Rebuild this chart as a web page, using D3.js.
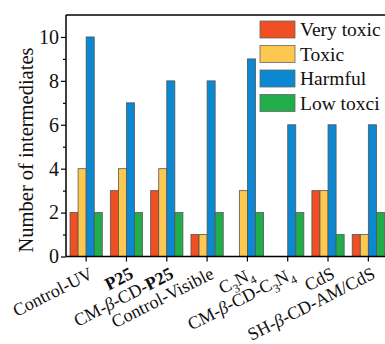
<!DOCTYPE html>
<html><head><meta charset="utf-8">
<script src="https://cdn.jsdelivr.net/npm/d3@7"></script>
<style>body{margin:0;background:#fff}</style>
</head><body>
<svg id="c" width="385" height="344"></svg>
<script>
const categories = ["Control-UV","P25","CM-β-CD-P25","Control-Visible","C3N4","CM-β-CD-C3N4","CdS","SH-β-CD-AM/CdS"];
const seriesNames = ["Very toxic","Toxic","Harmful","Low toxci"];
const veryToxic = [2,3,3,1,0,0,3,1];
const toxic     = [4,4,4,1,3,0,3,1];
const harmful   = [10,7,8,8,9,6,6,6];
const lowToxic  = [2,2,2,2,2,2,1,2];
const colors = ["#f04e23","#fdc84f","#0b88d1","#22ad4b"];
const yTicks = [0,2,4,6,8,10];
const yMinor = [1,3,5,7,9];
// rich label parts: [text, style] style: n normal, b bold, i italic, s subscript
const labelParts = [
  [["Control-UV","n"]],
  [["P25","b"]],
  [["CM-","n"],["β","i"],["-CD-","n"],["P25","b"]],
  [["Control-Visible","n"]],
  [["C","n"],["3","s"],["N","n"],["4","s"]],
  [["CM-","n"],["β","i"],["-CD-C","n"],["3","s"],["N","n"],["4","s"]],
  [["CdS","n"]],
  [["SH-","n"],["β","i"],["-CD-AM/CdS","n"]]
];
const series = [veryToxic, toxic, harmful, lowToxic];
const FONT = "Liberation Serif";

const svg = d3.select("#c");
const L = 66, T = 15, B = 256.5, R = 388.5;
const x = d3.scaleBand().domain(categories).range([L, R]).paddingInner(0.2).paddingOuter(0.1);
const xs = d3.scaleBand().domain(d3.range(4)).range([0, x.bandwidth()]);
const y = d3.scaleLinear().domain([0, 11]).range([B, T]);

// bars
categories.forEach((c, i) => {
  const g = svg.append("g").attr("transform", `translate(${x(c)},0)`);
  series.forEach((s, k) => {
    if (s[i] <= 0) return;
    g.append("rect")
      .attr("x", xs(k)).attr("width", xs.bandwidth())
      .attr("y", y(s[i])).attr("height", y(0) - y(s[i]))
      .attr("fill", colors[k]).attr("stroke", "#555").attr("stroke-width", 0.8);
  });
});

// y axis
const yAxis = d3.axisLeft(y).tickValues(yTicks).tickSize(5).tickPadding(2).tickFormat(d3.format("d"));
const gy = svg.append("g").attr("transform", `translate(${L},0)`).call(yAxis).attr("font-family", FONT);
gy.select(".domain").attr("d", `M0,${B}V${T}`).attr("stroke","#000").attr("stroke-width",1.5);
gy.selectAll(".tick line").attr("stroke-width",1.2);
gy.selectAll(".tick text").attr("font-size", 20).attr("fill","#111").attr("font-family", FONT);
const gyMinor = svg.append("g").attr("transform", `translate(${L},0)`).call(d3.axisLeft(y).tickValues(yMinor).tickSize(3).tickFormat(""));
gyMinor.select(".domain").remove();
gyMinor.selectAll(".tick line").attr("stroke-width",1.2);

// x axis
const xAxis = d3.axisBottom(x).tickSize(5).tickFormat("");
const gx = svg.append("g").attr("transform", `translate(0,${B})`).call(xAxis);
gx.select(".domain").attr("d", `M${L},0H${R}`).attr("stroke","#000").attr("stroke-width",1.5);
gx.selectAll(".tick line").attr("stroke-width",1.2);

// top frame
svg.append("line").attr("x1", L).attr("x2", 385).attr("y1", T).attr("y2", T).attr("stroke","#000").attr("stroke-width",1.5);

// x labels
categories.forEach((c, i) => {
  const cx = x(c) + x.bandwidth()/2;
  const t = svg.append("text")
    .attr("transform", `translate(${cx+8},${B+21}) rotate(-27)`)
    .attr("text-anchor","end").attr("font-size",18).attr("fill","#111").attr("font-family", FONT);
  let prevSub = false;
  labelParts[i].forEach(([txt, st]) => {
    const ts = t.append("tspan").text(txt).attr("font-family", FONT);
    if (st === "b") ts.attr("font-weight","bold");
    if (st === "i") ts.attr("font-style","italic");
    const isSub = st === "s";
    if (isSub) ts.attr("font-size", 12);
    ts.attr("dy", isSub && !prevSub ? 5 : (!isSub && prevSub ? -5 : 0));
    prevSub = isSub;
  });
});

// y label
svg.append("text").attr("transform", `translate(33,150) rotate(-90)`)
  .attr("text-anchor","middle").attr("font-size",20.5).attr("fill","#111").attr("font-family", FONT).text("Number of intermediates");

// legend
const lg = svg.append("g").attr("transform","translate(260,21)");
seriesNames.forEach((n, k) => {
  lg.append("rect").attr("x",0).attr("y",k*24.5).attr("width",35).attr("height",17)
    .attr("fill",colors[k]).attr("stroke","#666").attr("stroke-width",0.8);
  lg.append("text").attr("x",40).attr("y",k*24.5+15).attr("font-size",19.5).attr("fill","#111").attr("font-family", FONT).text(n);
});
</script>
</body></html>
